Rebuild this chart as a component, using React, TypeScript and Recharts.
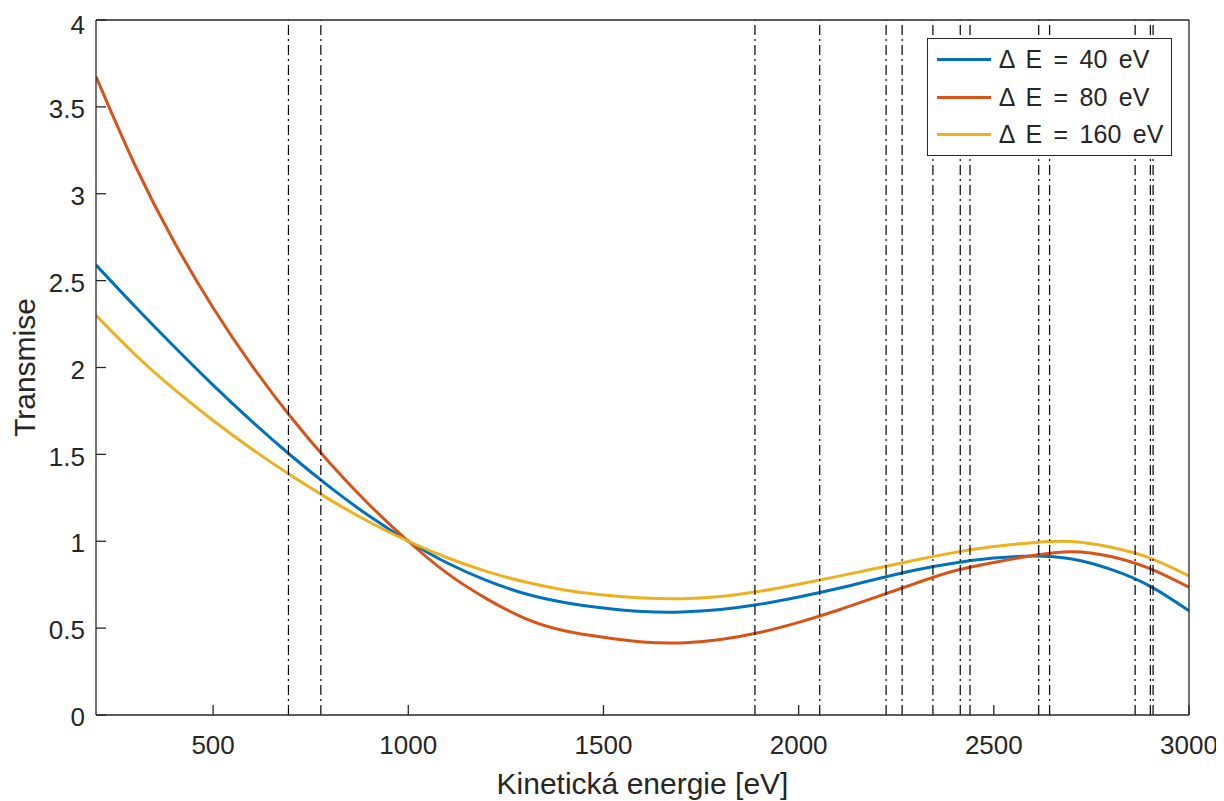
import React from 'react';
import { LineChart, Line, XAxis, YAxis, ReferenceLine, Legend, Label } from 'recharts';

const energy = [200, 300, 400, 500, 600, 700, 800, 900, 1000, 1100, 1200, 1300, 1400, 1500, 1600, 1700, 1800, 1900, 2000, 2100, 2200, 2300, 2400, 2500, 2600, 2700, 2800, 2900, 3000];
const dE40 = [2.59, 2.351, 2.121, 1.899, 1.689, 1.492, 1.31, 1.145, 1.0, 0.875, 0.775, 0.698, 0.648, 0.616, 0.596, 0.593, 0.607, 0.637, 0.679, 0.728, 0.783, 0.835, 0.875, 0.903, 0.915, 0.898, 0.838, 0.742, 0.6];
const dE80 = [3.674, 3.164, 2.724, 2.344, 2.009, 1.712, 1.447, 1.21, 1.0, 0.815, 0.67, 0.555, 0.485, 0.447, 0.42, 0.415, 0.435, 0.475, 0.533, 0.603, 0.68, 0.758, 0.83, 0.878, 0.918, 0.94, 0.912, 0.842, 0.735];
const dE160 = [2.3, 2.075, 1.875, 1.695, 1.53, 1.378, 1.238, 1.111, 1.0, 0.905, 0.827, 0.765, 0.72, 0.69, 0.673, 0.669, 0.682, 0.712, 0.753, 0.798, 0.845, 0.892, 0.936, 0.97, 0.992, 0.998, 0.965, 0.903, 0.8];

const seriesNames = ['Δ E = 40 eV', 'Δ E = 80 eV', 'Δ E = 160 eV'];
const seriesKeys = ['d40', 'd80', 'd160'];
const seriesColors = ['#0072BD', '#D95319', '#EDB120'];

const markerEnergies = [693, 776, 1888, 2054, 2224, 2265, 2344, 2414, 2439, 2615, 2643, 2862, 2901, 2908];

const xTicks = [500, 1000, 1500, 2000, 2500, 3000];
const yTicks = [0, 0.5, 1, 1.5, 2, 2.5, 3, 3.5, 4];

const xLabel = 'Kinetická energie [eV]';
const yLabel = 'Transmise';

const data = energy.map((e, i) => ({ e, d40: dE40[i], d80: dE80[i], d160: dE160[i] }));

const FONT = '"Liberation Sans", Arial, Helvetica, sans-serif';
const AX = '#262626';

const renderLegend = () => (
  <div
    style={{
      boxSizing: 'border-box',
      width: 245,
      height: 118,
      border: `1.3px solid ${AX}`,
      background: '#fff',
      paddingTop: 2,
      fontFamily: FONT,
    }}
  >
    {seriesNames.map((n, i) => (
      <div key={n} style={{ display: 'flex', alignItems: 'center', height: 37.3 }}>
        <div style={{ marginLeft: 9, width: 54, height: 3, background: seriesColors[i] }} />
        <span style={{ marginLeft: 8, fontSize: 25, color: AX, whiteSpace: 'pre', lineHeight: 1, wordSpacing: 4.5 }}>{n}</span>
      </div>
    ))}
  </div>
);

export default function App() {
  return (
    <LineChart width={1216} height={793} data={data} margin={{ top: 11, right: 34, left: 0, bottom: 0 }} style={{ fontFamily: FONT }}>
      <XAxis
        dataKey="e"
        type="number"
        domain={[200, 3000]}
        ticks={xTicks}
        allowDataOverflow
        height={86}
        tickSize={-10}
        tickMargin={31}
        axisLine={{ stroke: AX, strokeWidth: 1.3 }}
        tickLine={{ stroke: AX, strokeWidth: 1.3 }}
        tick={{ fill: AX, fontSize: 26, fontFamily: FONT }}
      >
        <Label value={xLabel} position="insideBottom" offset={7} style={{ fill: AX, fontSize: 30, fontFamily: FONT }} />
      </XAxis>
      <XAxis
        xAxisId="top"
        orientation="top"
        dataKey="e"
        type="number"
        domain={[200, 3000]}
        ticks={xTicks}
        allowDataOverflow
        height={1}
        tickSize={-10}
        tick={false}
        axisLine={{ stroke: AX, strokeWidth: 1.3 }}
        tickLine={{ stroke: AX, strokeWidth: 1.3 }}
      />
      <YAxis
        type="number"
        domain={[0, 4]}
        ticks={yTicks}
        allowDataOverflow
        width={88}
        tickSize={-10}
        tickMargin={21}
        axisLine={{ stroke: AX, strokeWidth: 1.3 }}
        tickLine={{ stroke: AX, strokeWidth: 1.3 }}
        tick={{ fill: AX, fontSize: 26, fontFamily: FONT, dy: 2 }}
      >
        <Label value={yLabel} angle={-90} position="insideLeft" offset={16} style={{ fill: AX, fontSize: 30, fontFamily: FONT, textAnchor: 'middle' }} />
      </YAxis>
      <YAxis
        yAxisId="right"
        orientation="right"
        type="number"
        domain={[0, 4]}
        ticks={yTicks}
        allowDataOverflow
        width={1}
        tickSize={-10}
        tick={false}
        axisLine={{ stroke: AX, strokeWidth: 1.3 }}
        tickLine={{ stroke: AX, strokeWidth: 1.3 }}
      />
      {seriesKeys.map((k, i) => (
        <Line
          key={k}
          dataKey={k}
          name={seriesNames[i]}
          type="natural"
          stroke={seriesColors[i]}
          strokeWidth={3}
          dot={false}
          activeDot={false}
          isAnimationActive={false}
        />
      ))}
      {markerEnergies.map((x) => (
        <ReferenceLine key={x} x={x} stroke="#000" strokeWidth={1.2} strokeDasharray="10 4 2 4" />
      ))}
      <Legend
        layout="vertical"
        align="center"
        verticalAlign="middle"
        content={renderLegend}
        wrapperStyle={{ position: 'absolute', left: 918.7, top: 30.3, width: 245, height: 118 }}
      />
    </LineChart>
  );
}
